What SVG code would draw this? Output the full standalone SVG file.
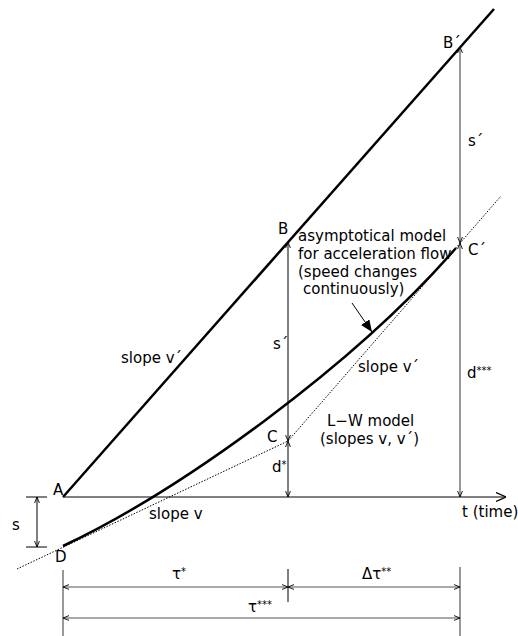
<svg xmlns="http://www.w3.org/2000/svg" width="518" height="636" viewBox="0 0 518 636">
<style>
text{font-family:"DejaVu Sans","Liberation Sans",sans-serif;font-size:15px;fill:#000}
.thin{stroke:#000;stroke-width:1;fill:none}
.gray{stroke:#555;stroke-width:1.2;fill:none}
.thick{stroke:#000;stroke-width:2.5;fill:none}
.dot{stroke:#000;stroke-width:1;stroke-dasharray:1.5 1.5;fill:none}
.sup{font-size:10px}
</style>
<defs>
<marker id="ah" viewBox="0 0 6 6" refX="6" refY="3" markerWidth="6" markerHeight="6" markerUnits="userSpaceOnUse" orient="auto-start-reverse">
<path d="M0,0.6 L6,3 L0,5.4" fill="none" stroke="#000" stroke-width="0.9"/>
</marker>
<marker id="axis" viewBox="0 0 10 10" refX="10" refY="5" markerWidth="10" markerHeight="10" markerUnits="userSpaceOnUse" orient="auto">
<path d="M0,0.5 L10,5 L0,9.5" fill="none" stroke="#000" stroke-width="1.2"/>
</marker>
<marker id="fill" viewBox="0 0 12 10" refX="12" refY="5" markerWidth="12" markerHeight="10" markerUnits="userSpaceOnUse" orient="auto">
<path d="M0,0 L12,5 L0,10 Z" fill="#000"/>
</marker>
</defs>

<g id="connectors">
<!-- time axis -->
<line class="thin" x1="63" y1="497" x2="506" y2="497" stroke-width="1.5" marker-end="url(#axis)"/>
<!-- line A-B' (slope v') -->
<line class="thick" x1="63" y1="497" x2="494" y2="9"/>
<!-- asymptotical curve -->
<path class="thick" d="M63,546 C183,489.4 356,363.1 456,248"/>
<!-- L-W model dotted -->
<path class="dot" d="M17,569 L288,441 L501,196"/>
<!-- pointer arrow -->
<line class="thin" x1="352" y1="303" x2="372" y2="332" marker-end="url(#fill)"/>
<!-- verticals at tau* -->
<line class="thin" x1="288" y1="242" x2="288" y2="441" marker-start="url(#ah)" marker-end="url(#ah)"/>
<line class="thin" x1="288" y1="441" x2="288" y2="497" marker-start="url(#ah)" marker-end="url(#ah)"/>
<!-- verticals at tau*** -->
<line class="gray" x1="460" y1="47" x2="460" y2="243" marker-start="url(#ah)" marker-end="url(#ah)"/>
<line class="gray" x1="460" y1="243" x2="460" y2="497" marker-start="url(#ah)" marker-end="url(#ah)"/>
<!-- s dimension -->
<line class="thin" x1="26" y1="497" x2="47" y2="497"/>
<line class="thin" x1="26" y1="547" x2="47" y2="547"/>
<line class="thin" x1="37" y1="497" x2="37" y2="547" marker-start="url(#ah)" marker-end="url(#ah)"/>
<!-- extension lines -->
<line class="gray" x1="63" y1="570" x2="63" y2="636"/>
<line class="thin" x1="288" y1="569" x2="288" y2="602"/>
<line class="gray" x1="460" y1="567" x2="460" y2="636"/>
<!-- dimension lines -->
<line class="gray" x1="63" y1="587" x2="288" y2="587" marker-start="url(#ah)" marker-end="url(#ah)"/>
<line class="gray" x1="288" y1="587" x2="460" y2="587" marker-start="url(#ah)" marker-end="url(#ah)"/>
<line class="gray" x1="63" y1="618" x2="460" y2="618" stroke-width="1.6" marker-start="url(#ah)" marker-end="url(#ah)"/>
</g>

<g id="A"><text x="53" y="495">A</text></g>
<g id="B"><text x="278" y="234">B</text></g>
<g id="Bp"><text x="443" y="48">B´</text></g>
<g id="C"><text x="267" y="442">C</text></g>
<g id="Cp"><text x="468" y="255">C´</text></g>
<g id="D"><text x="55" y="562">D</text></g>

<g id="labels">
<text x="121" y="363">slope v´</text>
<text x="358" y="372">slope v´</text>
<text x="149" y="519">slope v</text>
<text x="273" y="349">s´</text>
<text x="468" y="146">s´</text>
<text x="272" y="472">d<tspan class="sup" dy="-4">*</tspan></text>
<text x="467" y="378">d<tspan class="sup" dy="-4">***</tspan></text>
<text x="12" y="530">s</text>
<text x="462" y="517">t (time)</text>
<text x="298" y="241">asymptotical model</text>
<text x="298" y="259">for acceleration flow</text>
<text x="298" y="277">(speed changes</text>
<text x="298" y="294"> <tspan x="303">continuously)</tspan></text>
<text x="327" y="426">L−W model</text>
<text x="320" y="444">(slopes v, v´)</text>
<text x="172" y="579">τ<tspan class="sup" dy="-4">*</tspan></text>
<text x="362" y="579">Δτ<tspan class="sup" dy="-4">**</tspan></text>
<text x="248" y="612">τ<tspan class="sup" dy="-4">***</tspan></text>
</g>
</svg>
